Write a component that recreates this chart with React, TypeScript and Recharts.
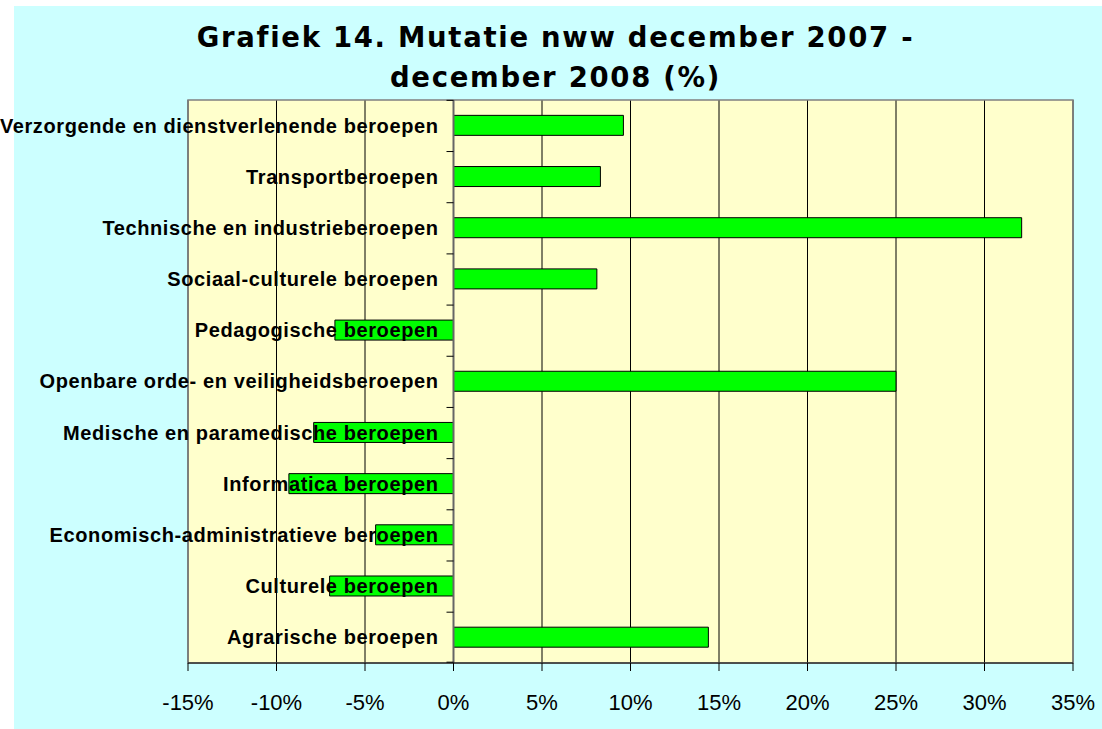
import { Bar, BarChart, CartesianGrid, LabelList, ReferenceArea, ReferenceLine, XAxis, YAxis } from "recharts";

const categories = [
    "Verzorgende en dienstverlenende beroepen",
    "Transportberoepen",
    "Technische en industrieberoepen",
    "Sociaal-culturele beroepen",
    "Pedagogische beroepen",
    "Openbare orde- en veiligheidsberoepen",
    "Medische en paramedische beroepen",
    "Informatica beroepen",
    "Economisch-administratieve beroepen",
    "Culturele beroepen",
    "Agrarische beroepen",
];

const mutatie = [9.6, 8.3, 32.1, 8.1, -6.7, 25.0, -7.9, -9.3, -4.4, -7.0, 14.4];

const xTicks = [-15, -10, -5, 0, 5, 10, 15, 20, 25, 30, 35];

const titleLines = ["Grafiek 14. Mutatie nww december 2007 -", "december 2008 (%)"];

const data = categories.map((name, i) => ({ name, value: mutatie[i] }));

const GAP = 0.3; // barCategoryGap als fractie

const CategoryLabel = (props: any) => {
    const vb = props.viewBox ?? props;
    const x = Number(vb.x);
    const y = Number(vb.y);
    const w = Number(vb.width);
    const h = Math.abs(Number(vb.height));
    const idx = props.index as number;
    const v = mutatie[idx];
    // positie van de 0-as
    const zeroX = v >= 0 ? Math.min(x, x + w) : Math.max(x, x + w);
    const cy = y + h / 2;
    const slot = h / (1 - 2 * GAP);
    const isLast = idx === categories.length - 1;
    return (
        <g>
            <line x1={zeroX - 7} x2={zeroX} y1={cy - slot / 2} y2={cy - slot / 2} stroke="#000" />
            {isLast && <line x1={zeroX - 7} x2={zeroX} y1={cy + slot / 2} y2={cy + slot / 2} stroke="#000" />}
            <text
                x={zeroX - 15}
                y={cy}
                dy="0.36em"
                textAnchor="end"
                fontFamily="'Liberation Sans', Arial, sans-serif"
                fontWeight="bold"
                fontSize={20}
                letterSpacing={0.6}
                fill="#000"
            >
                {categories[idx]}
            </text>
        </g>
    );
};

const App = () => {
    return (
        <div style={{ position: "fixed", left: 0, top: 0, width: 1102, height: 729, background: "#fff", overflow: "hidden" }}>
            <div style={{ position: "absolute", left: 14, top: 6, right: 0, bottom: 0, background: "#CCFFFF" }} />
            <svg width={1102} height={100} style={{ position: "absolute", left: 0, top: 0 }}>
                {titleLines.map((t, i) => (
                    <text
                        key={i}
                        x={555.5}
                        y={47 + i * 40}
                        textAnchor="middle"
                        fontFamily="'DejaVu Sans', Verdana, sans-serif"
                        fontWeight="bold"
                        fontSize={27.5}
                        letterSpacing={1.7}
                        fill="#000"
                    >
                        {t}
                    </text>
                ))}
            </svg>
            <div style={{ position: "absolute", left: 0, top: 0 }}>
                <BarChart
                    width={1102}
                    height={729}
                    data={data}
                    layout="vertical"
                    barCategoryGap="30%"
                    margin={{ top: 100, right: 29, bottom: 36, left: 188 }}
                >
                    <CartesianGrid horizontal={false} stroke="#000" fill="#FFFFCC" fillOpacity={1} />
                    <ReferenceArea x1={-15} x2={35} fill="none" stroke="#808080" strokeWidth={1.5} ifOverflow="visible" />
                    <XAxis
                        type="number"
                        domain={[-15, 35]}
                        ticks={xTicks}
                        interval={0}
                        tickFormatter={(v) => `${v}%`}
                        height={30}
                        stroke="#000"
                        tickSize={8}
                        tickMargin={23}
                        tick={{ fill: "#000", fontSize: 22, fontFamily: "'Liberation Sans', Arial, sans-serif" }}
                    />
                    <YAxis type="category" dataKey="name" hide width={0} />
                    <ReferenceLine x={0} stroke="#666" strokeWidth={2} />
                    <Bar dataKey="value" fill="#00FF00" stroke="#000" strokeWidth={1} isAnimationActive={false}>
                        <LabelList dataKey="name" content={CategoryLabel} />
                    </Bar>
                </BarChart>
            </div>
        </div>
    );
};

export default App;
